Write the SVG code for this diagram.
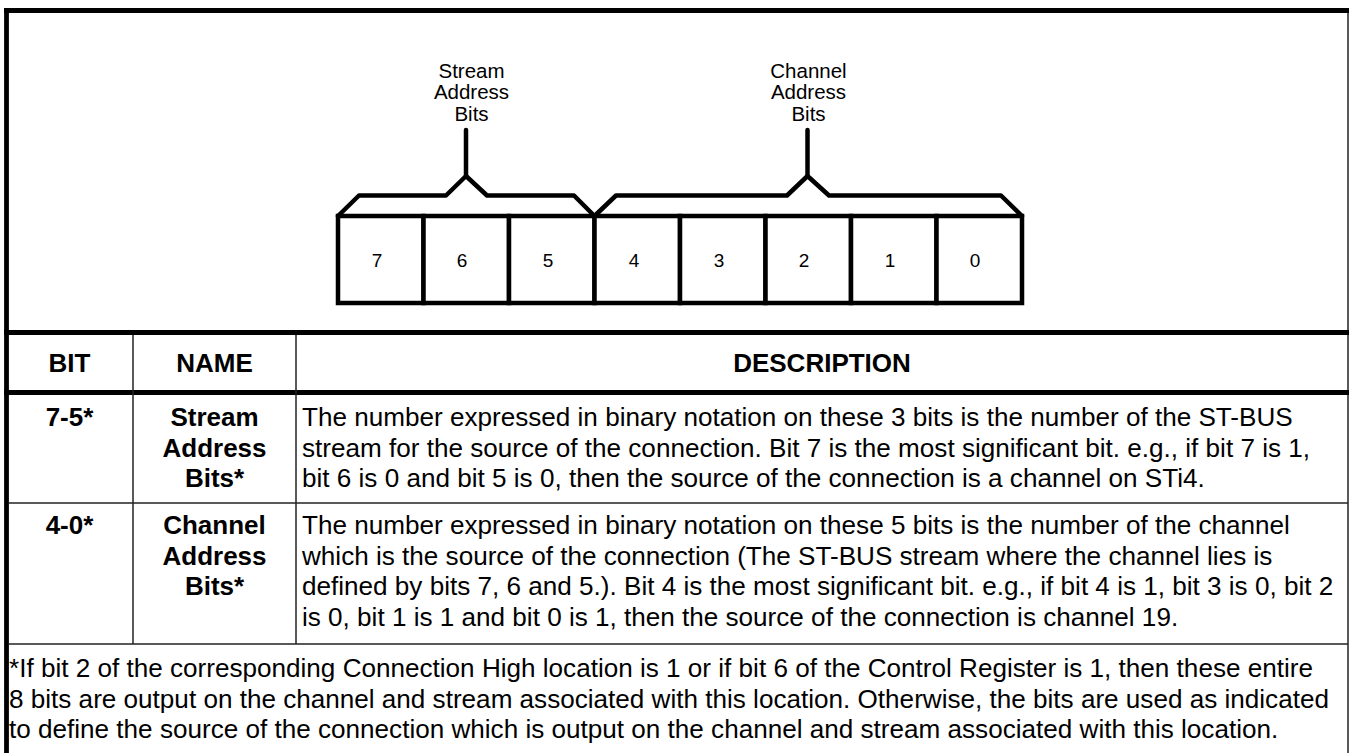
<svg xmlns="http://www.w3.org/2000/svg" width="1351" height="753" viewBox="0 0 1351 753">
  <style>
    .txt { font-family: "Liberation Sans", Arial, Helvetica, sans-serif; fill: #000; }
    .lbl { font-size: 20.5px; text-anchor: middle; }
    .num { font-size: 19px; text-anchor: middle; }
    .hdr { font-size: 26px; font-weight: bold; text-anchor: middle; }
    .body { font-size: 26.1px; }
    .cell { fill: #fff; stroke: #000; stroke-width: 4.5; }
    .brace { fill: none; stroke: #000; stroke-width: 4.5; stroke-linejoin: round; stroke-linecap: round; }
    .thick { stroke: #000; stroke-width: 4.8; }
    .thin { stroke: #222; stroke-width: 1.5; }
  </style>

  <rect x="0" y="0" width="1351" height="753" fill="#fff"/>

  <!-- table frame and rules -->
  <g id="frame">
    <line class="thin" x1="1348" y1="10" x2="1348" y2="753"/>
    <line class="thick" x1="4" y1="10.5" x2="1349" y2="10.5"/>
    <line class="thick" x1="6.5" y1="8" x2="6.5" y2="753"/>
    <line class="thick" x1="4" y1="332.5" x2="1349" y2="332.5"/>
    <line class="thick" x1="4" y1="392.5" x2="1349" y2="392.5"/>
    <line class="thin" x1="9" y1="503" x2="1348" y2="503"/>
    <line class="thin" x1="9" y1="644" x2="1348" y2="644"/>
    <line class="thin" x1="133" y1="335" x2="133" y2="644"/>
    <line class="thin" x1="296" y1="335" x2="296" y2="644"/>
  </g>

  <!-- register bit cells, bit 7 (MSB) on the left -->
  <g id="bit7"><rect class="cell" x="338" y="216" width="85.5" height="87"/><text class="txt num" x="377" y="267">7</text></g>
  <g id="bit6"><rect class="cell" x="423.5" y="216" width="85.5" height="87"/><text class="txt num" x="462" y="267">6</text></g>
  <g id="bit5"><rect class="cell" x="509" y="216" width="85.5" height="87"/><text class="txt num" x="548" y="267">5</text></g>
  <g id="bit4"><rect class="cell" x="594.5" y="216" width="85.5" height="87"/><text class="txt num" x="634" y="267">4</text></g>
  <g id="bit3"><rect class="cell" x="680" y="216" width="85.5" height="87"/><text class="txt num" x="719" y="267">3</text></g>
  <g id="bit2"><rect class="cell" x="765.5" y="216" width="85.5" height="87"/><text class="txt num" x="804" y="267">2</text></g>
  <g id="bit1"><rect class="cell" x="851" y="216" width="85.5" height="87"/><text class="txt num" x="890" y="267">1</text></g>
  <g id="bit0"><rect class="cell" x="936.5" y="216" width="85.5" height="87"/><text class="txt num" x="975" y="267">0</text></g>

  <!-- field labels -->
  <g id="stream-label">
    <text class="txt lbl" x="471.5" y="77.5">Stream</text>
    <text class="txt lbl" x="471.5" y="99">Address</text>
    <text class="txt lbl" x="471.5" y="120.5">Bits</text>
  </g>
  <g id="channel-label">
    <text class="txt lbl" x="808.5" y="77.5">Channel</text>
    <text class="txt lbl" x="808.5" y="99">Address</text>
    <text class="txt lbl" x="808.5" y="120.5">Bits</text>
  </g>

  <!-- braces grouping the bit fields, with their leader stems -->
  <g id="connectors">
    <path class="brace" d="M338,216 L359,195.5 L446,195.5 L466,176 L487,195.5 L574,195.5 L594.5,216"/>
    <path class="brace" d="M594.5,216 L616,195.5 L787,195.5 L807.5,176 L829,195.5 L1001,195.5 L1022,216"/>
    <line class="brace" x1="466" y1="130" x2="466" y2="176" stroke-linecap="butt"/>
    <line class="brace" x1="807.5" y1="130" x2="807.5" y2="176" stroke-linecap="butt"/>
  </g>

  <!-- column headings -->
  <g id="header">
    <text class="txt hdr" x="69.5" y="372">BIT</text>
    <text class="txt hdr" x="214.5" y="372">NAME</text>
    <text class="txt hdr" x="822" y="372">DESCRIPTION</text>
  </g>

  <!-- bits 7-5 -->
  <g id="row-stream">
    <text class="txt hdr" x="69.5" y="426">7-5*</text>
    <text class="txt hdr" x="214.5" y="426">Stream</text>
    <text class="txt hdr" x="214.5" y="456.5">Address</text>
    <text class="txt hdr" x="214.5" y="487">Bits*</text>
    <text class="txt body" x="302" y="426">The number expressed in binary notation on these 3 bits is the number of the ST-BUS</text>
    <text class="txt body" x="302" y="456.5">stream for the source of the connection. Bit 7 is the most significant bit. e.g., if bit 7 is 1,</text>
    <text class="txt body" x="302" y="487">bit 6 is 0 and bit 5 is 0, then the source of the connection is a channel on STi4.</text>
  </g>

  <!-- bits 4-0 -->
  <g id="row-channel">
    <text class="txt hdr" x="69.5" y="534">4-0*</text>
    <text class="txt hdr" x="214.5" y="534">Channel</text>
    <text class="txt hdr" x="214.5" y="564.5">Address</text>
    <text class="txt hdr" x="214.5" y="595">Bits*</text>
    <text class="txt body" x="302" y="534">The number expressed in binary notation on these 5 bits is the number of the channel</text>
    <text class="txt body" x="302" y="564.5">which is the source of the connection (The ST-BUS stream where the channel lies is</text>
    <text class="txt body" x="302" y="595">defined by bits 7, 6 and 5.). Bit 4 is the most significant bit. e.g., if bit 4 is 1, bit 3 is 0, bit 2</text>
    <text class="txt body" x="302" y="625.5">is 0, bit 1 is 1 and bit 0 is 1, then the source of the connection is channel 19.</text>
  </g>

  <!-- footnote -->
  <g id="footnote">
    <text class="txt body" x="9" y="677">*If bit 2 of the corresponding Connection High location is 1 or if bit 6 of the Control Register is 1, then these entire</text>
    <text class="txt body" x="9" y="707.5">8 bits are output on the channel and stream associated with this location. Otherwise, the bits are used as indicated</text>
    <text class="txt body" x="9" y="738">to define the source of the connection which is output on the channel and stream associated with this location.</text>
  </g>
</svg>
